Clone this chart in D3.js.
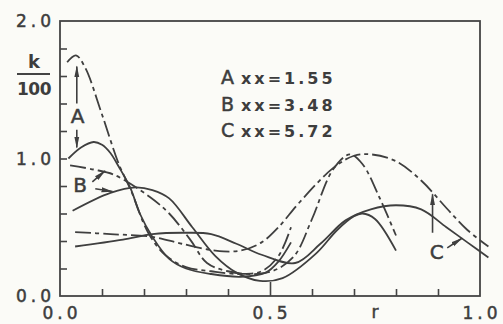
<!DOCTYPE html>
<html>
<head>
<meta charset="utf-8">
<script src="https://cdn.jsdelivr.net/npm/d3@7"></script>
<style>
  html, body { margin: 0; padding: 0; background: #fbfbf7; }
  svg text { fill: #3d3d3d; font-family: "DejaVu Sans", sans-serif; }
  .curve { fill: none; stroke: #3f3f3f; stroke-width: 1.8px; }
  .dash { stroke-dasharray: 16 4 4 4; }
  .tick line { stroke: #444; stroke-width: 1.6px; }
  .heavy { stroke: #3d3d3d; stroke-width: 0.5px; }
</style>
</head>
<body>
<div id="chart"></div>
<script>
// [r, k/100]
const aDash  = [[0.017,1.70],[0.038,1.75],[0.06,1.66],[0.10,1.32],[0.14,0.96],[0.17,0.76],[0.21,0.46],[0.25,0.30],[0.30,0.21],[0.36,0.18],[0.43,0.16],[0.48,0.18],[0.52,0.29],[0.55,0.50]];
const aSolid = [[0.02,1.00],[0.05,1.08],[0.08,1.12],[0.10,1.10],[0.12,1.04],[0.14,0.94],[0.167,0.79],[0.19,0.60],[0.22,0.43],[0.26,0.27],[0.30,0.20],[0.36,0.16],[0.43,0.14],[0.49,0.17],[0.52,0.25],[0.55,0.39]];
const bDash  = [[0.024,0.95],[0.08,0.92],[0.13,0.88],[0.214,0.72],[0.26,0.60],[0.31,0.41],[0.35,0.24],[0.40,0.18],[0.47,0.16],[0.52,0.20],[0.56,0.30],[0.60,0.56],[0.65,0.92],[0.69,1.03],[0.72,0.96],[0.76,0.72],[0.80,0.44]];
const bSolid = [[0.03,0.62],[0.12,0.75],[0.18,0.79],[0.22,0.77],[0.26,0.71],[0.315,0.50],[0.37,0.29],[0.42,0.17],[0.476,0.11],[0.53,0.13],[0.61,0.31],[0.66,0.48],[0.70,0.58],[0.72,0.60],[0.75,0.56],[0.80,0.33]];
const cDash  = [[0.036,0.465],[0.12,0.45],[0.22,0.43],[0.29,0.38],[0.37,0.33],[0.43,0.33],[0.48,0.39],[0.52,0.50],[0.57,0.68],[0.65,0.93],[0.70,1.02],[0.74,1.03],[0.80,0.98],[0.86,0.84],[0.92,0.64],[0.97,0.48],[1.02,0.36]];
const cSolid = [[0.036,0.36],[0.15,0.41],[0.22,0.45],[0.30,0.46],[0.36,0.45],[0.42,0.38],[0.48,0.30],[0.56,0.24],[0.62,0.38],[0.68,0.55],[0.74,0.63],[0.80,0.66],[0.86,0.63],[0.92,0.50],[0.97,0.39],[1.02,0.28]];

const legendKeys = ["A", "B", "C"];
const legendText = ["xx=1.55", "xx=3.48", "xx=5.72"];

const xTickLabels = [[0, "0.0"], [0.5, "0.5"], [1.0, "1.0"]];
const yTickLabels = [[0, "0.0"], [1, "1.0"], [2, "2.0"]];

// arrows: [from r, from k, to r, to k]
const arrows = [
  [0.04, 1.40, 0.04, 1.67],
  [0.04, 1.21, 0.04, 1.08],
  [0.077, 0.83, 0.107, 0.91],
  [0.084, 0.78, 0.125, 0.76],
  [0.887, 0.46, 0.887, 0.74],
  [0.922, 0.35, 0.957, 0.42]
];
const arrowLabels = [[0.042, 1.31, "A"], [0.048, 0.81, "B"], [0.897, 0.32, "C"]];

const width = 503, height = 324;
const x = d3.scaleLinear().domain([0, 1]).range([60, 480]);
const y = d3.scaleLinear().domain([0, 2]).range([296, 21]);

const svg = d3.select("#chart").append("svg")
  .attr("width", width)
  .attr("height", height);

svg.append("defs").append("marker")
  .attr("id", "head")
  .attr("viewBox", "0 0 12 6")
  .attr("refX", 11).attr("refY", 3)
  .attr("markerWidth", 12).attr("markerHeight", 6)
  .attr("markerUnits", "userSpaceOnUse")
  .attr("orient", "auto")
  .append("path")
  .attr("d", "M0,0.5 L12,3 L0,5.5 Z")
  .attr("fill", "#3f3f3f");

// ticks, inside the frame
const xAxis = svg.append("g")
  .attr("transform", `translate(0,${y(0)})`)
  .call(d3.axisBottom(x).tickValues(d3.range(1, 10).map(d => d / 10)).tickSize(-7).tickFormat(""));
xAxis.select(".domain").remove();
xAxis.selectAll(".tick line").filter(d => Math.abs(d - 0.5) < 1e-6).attr("y2", -14);

const yAxis = svg.append("g")
  .attr("transform", `translate(${x(0)},0)`)
  .call(d3.axisLeft(y).tickValues(d3.range(1, 10).map(d => d / 5)).tickSize(-7).tickFormat(""));
yAxis.select(".domain").remove();

// frame
svg.append("rect")
  .attr("x", x(0)).attr("y", y(2))
  .attr("width", x(1) - x(0)).attr("height", y(0) - y(2))
  .attr("fill", "none").attr("stroke", "#444").attr("stroke-width", 1.8);

// curves
const line = d3.line()
  .x(d => x(d[0]))
  .y(d => y(d[1]))
  .curve(d3.curveCatmullRom.alpha(0.5));

const curves = [
  [aDash, true], [aSolid, false],
  [bDash, true], [bSolid, false],
  [cDash, true], [cSolid, false]
];
svg.selectAll(".curve")
  .data(curves)
  .enter()
  .append("path")
  .attr("class", d => d[1] ? "curve dash" : "curve")
  .attr("d", d => line(d[0]));

// arrows
svg.selectAll(".arrow")
  .data(arrows)
  .enter()
  .append("line")
  .attr("class", "arrow")
  .attr("x1", d => x(d[0])).attr("y1", d => y(d[1]))
  .attr("x2", d => x(d[2])).attr("y2", d => y(d[3]))
  .attr("stroke", "#3f3f3f").attr("stroke-width", 1.6)
  .attr("marker-end", "url(#head)");

svg.selectAll(".alabel")
  .data(arrowLabels)
  .enter()
  .append("text")
  .attr("class", "heavy")
  .attr("x", d => x(d[0])).attr("y", d => y(d[1]))
  .attr("dy", "0.36em")
  .attr("text-anchor", "middle")
  .style("font-size", "20px")
  .text(d => d[2]);

// tick labels
svg.selectAll(".xlab")
  .data(xTickLabels)
  .enter()
  .append("text")
  .attr("class", "heavy")
  .attr("x", d => x(d[0]) + 2).attr("y", 319)
  .attr("text-anchor", "middle")
  .style("font-size", "17px").style("letter-spacing", "4px")
  .text(d => d[1]);

svg.append("text")
  .attr("class", "heavy")
  .attr("x", x(0.75)).attr("y", 318)
  .attr("text-anchor", "middle")
  .style("font-size", "17px")
  .text("r");

svg.selectAll(".ylab")
  .data(yTickLabels)
  .enter()
  .append("text")
  .attr("class", "heavy")
  .attr("x", 55).attr("y", d => y(d[0]))
  .attr("dy", "0.36em")
  .attr("text-anchor", "end")
  .style("font-size", "17px").style("letter-spacing", "4px")
  .text(d => d[1]);

// k/100 label
svg.append("text")
  .attr("x", 34).attr("y", 68)
  .attr("text-anchor", "middle")
  .style("font-size", "18px").style("font-weight", "bold")
  .text("k");
svg.append("line")
  .attr("x1", 17).attr("x2", 50).attr("y1", 74).attr("y2", 74)
  .attr("stroke", "#444").attr("stroke-width", 1.8);
svg.append("text")
  .attr("x", 34).attr("y", 95)
  .attr("text-anchor", "middle")
  .style("font-size", "17px").style("font-weight", "bold")
  .style("letter-spacing", "-0.5px")
  .text("100");

// legend
const legend = svg.selectAll(".leg")
  .data(legendKeys)
  .enter()
  .append("g")
  .attr("transform", (d, i) => `translate(221,${84 + i * 26.5})`);
legend.append("text")
  .attr("class", "heavy")
  .style("font-size", "19px")
  .text(d => d);
legend.append("text")
  .attr("x", 20)
  .style("font-size", "16px").style("font-weight", "bold").style("letter-spacing", "3px")
  .text((d, i) => legendText[i]);
</script>
</body>
</html>
